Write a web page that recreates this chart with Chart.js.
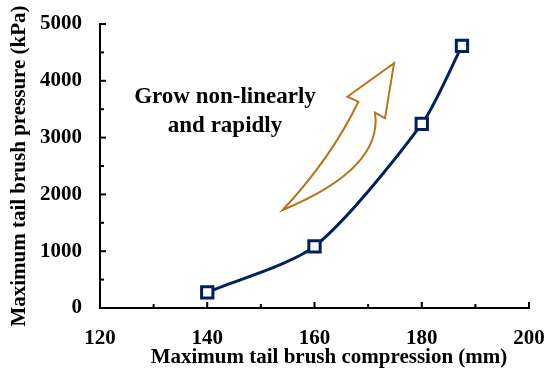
<!DOCTYPE html>
<html>
<head>
<meta charset="utf-8">
<script src="https://cdn.jsdelivr.net/npm/chart.js@4"></script>
<style>
  html, body { margin: 0; padding: 0; background: #fff; }
  #wrap { width: 550px; height: 375px; }
</style>
</head>
<body>
<div id="wrap"><canvas id="myChart" width="550" height="375"></canvas></div>
<script>
// data
const compression = [140, 160, 180, 187.5];   // mm
const pressure = [275, 1085, 3240, 4615];     // kPa
const xTicks = [120, 140, 160, 180, 200];
const yTicks = [0, 1000, 2000, 3000, 4000, 5000];
const xTitle = 'Maximum tail brush compression (mm)';
const noteLines = ['Grow non-linearly', 'and rapidly'];

const navy = 'rgb(0, 32, 96)';
const brown = 'rgb(184, 116, 26)';
const serif = "'Liberation Serif', 'Times New Roman', serif";

var points = [];
for (var i = 0; i < compression.length; i++) {
  points.push({ x: compression[i], y: pressure[i] });
}

// inward ticks (major + minor) drawn on the axes, plus the x title
const innerTicks = {
  id: 'innerTicks',
  afterDraw(chart) {
    const ctx = chart.ctx;
    const xs = chart.scales.x, ys = chart.scales.y;
    const y0 = ys.getPixelForValue(0);
    const x0 = xs.getPixelForValue(120);
    ctx.save();
    ctx.strokeStyle = '#000';
    ctx.lineWidth = 2;
    for (var v = 120; v <= 200; v += 10) {
      var px = xs.getPixelForValue(v);
      var len = (v % 20 == 0) ? 6 : 4;
      ctx.beginPath();
      ctx.moveTo(px, y0);
      ctx.lineTo(px, y0 - len);
      ctx.stroke();
    }
    for (var w = 0; w <= 5000; w += 500) {
      var py = ys.getPixelForValue(w);
      var len2 = (w % 1000 == 0) ? 6 : 4;
      ctx.beginPath();
      ctx.moveTo(x0, py);
      ctx.lineTo(x0 + len2, py);
      ctx.stroke();
    }
    // x title sits a bit right of centre in the original
    ctx.fillStyle = '#000';
    ctx.font = 'bold 21px ' + serif;
    ctx.textAlign = 'center';
    ctx.textBaseline = 'middle';
    ctx.fillText(xTitle, 329, 358);
    ctx.restore();
  }
};

// the hollow curved arrow and its note
const arrowNote = {
  id: 'arrowNote',
  afterDraw(chart) {
    const ctx = chart.ctx;
    const xs = chart.scales.x, ys = chart.scales.y;
    const p = (x, y) => [xs.getPixelForValue(x), ys.getPixelForValue(y)];
    const tail = p(154.07, 1725);
    const tip = p(174.83, 4308);
    const lBarb = p(166.12, 3720);
    const lNotch = p(168.17, 3632);
    const rNotch = p(171.28, 3438);
    const rBarb = p(173.15, 3340);
    const lCtrl = p(163.2, 2650);
    const rCtrl = p(172.8, 2455);
    ctx.save();
    ctx.strokeStyle = brown;
    ctx.lineWidth = 2;
    ctx.lineJoin = 'miter';
    ctx.beginPath();
    ctx.moveTo(tail[0], tail[1]);
    ctx.quadraticCurveTo(lCtrl[0], lCtrl[1], lNotch[0], lNotch[1]);
    ctx.lineTo(lBarb[0], lBarb[1]);
    ctx.lineTo(tip[0], tip[1]);
    ctx.lineTo(rBarb[0], rBarb[1]);
    ctx.lineTo(rNotch[0], rNotch[1]);
    ctx.quadraticCurveTo(rCtrl[0], rCtrl[1], tail[0], tail[1]);
    ctx.closePath();
    ctx.stroke();

    ctx.fillStyle = '#000';
    ctx.font = 'bold 23px ' + serif;
    ctx.textAlign = 'center';
    ctx.textBaseline = 'alphabetic';
    ctx.fillText(noteLines[0], 225, 103);
    ctx.fillText(noteLines[1], 225, 132);
    ctx.restore();
  }
};

const config = {
  type: 'line',
  data: {
    datasets: [{
      label: 'Pressure',
      data: points,
      borderColor: navy,
      backgroundColor: '#fff',
      borderWidth: 3,
      tension: 0.25,
      pointStyle: 'rect',
      pointRadius: 8,
      pointBorderWidth: 3,
      pointBorderColor: navy,
      pointBackgroundColor: '#fff'
    }]
  },
  options: {
    responsive: false,
    animation: false,
    layout: { padding: { top: 24, right: 21, bottom: 0, left: 0 } },
    plugins: { legend: { display: false }, tooltip: { enabled: false } },
    scales: {
      x: {
        type: 'linear',
        min: 120,
        max: 200,
        afterFit: function(s) { s.height = 67; s.paddingLeft = 0; s.paddingRight = 0; },
        afterBuildTicks: function(s) { s.ticks = xTicks.map(v => ({ value: v })); },
        grid: { display: false, drawTicks: false },
        border: { display: true, color: '#000', width: 2 },
        ticks: {
          color: '#000',
          padding: 18,
          font: { family: serif, size: 21, weight: 'bold' }
        },
        title: { display: false }
      },
      y: {
        min: 0,
        max: 5000,
        afterFit: function(s) { s.width = 100; s.paddingTop = 0; s.paddingBottom = 0; },
        afterBuildTicks: function(s) { s.ticks = yTicks.map(v => ({ value: v })); },
        grid: { display: false, drawTicks: false },
        border: { display: true, color: '#000', width: 2 },
        ticks: {
          color: '#000',
          padding: 18,
          font: { family: serif, size: 21, weight: 'bold' },
          callback: function(v) { return String(v); }
        },
        title: {
          display: true,
          text: 'Maximum tail brush pressure (kPa)',
          color: '#000',
          font: { family: serif, size: 21, weight: 'bold' },
          padding: { top: 7, bottom: 0 }
        }
      }
    }
  },
  plugins: [innerTicks, arrowNote]
};

var myChart = new Chart(document.getElementById('myChart'), config);
</script>
</body>
</html>
